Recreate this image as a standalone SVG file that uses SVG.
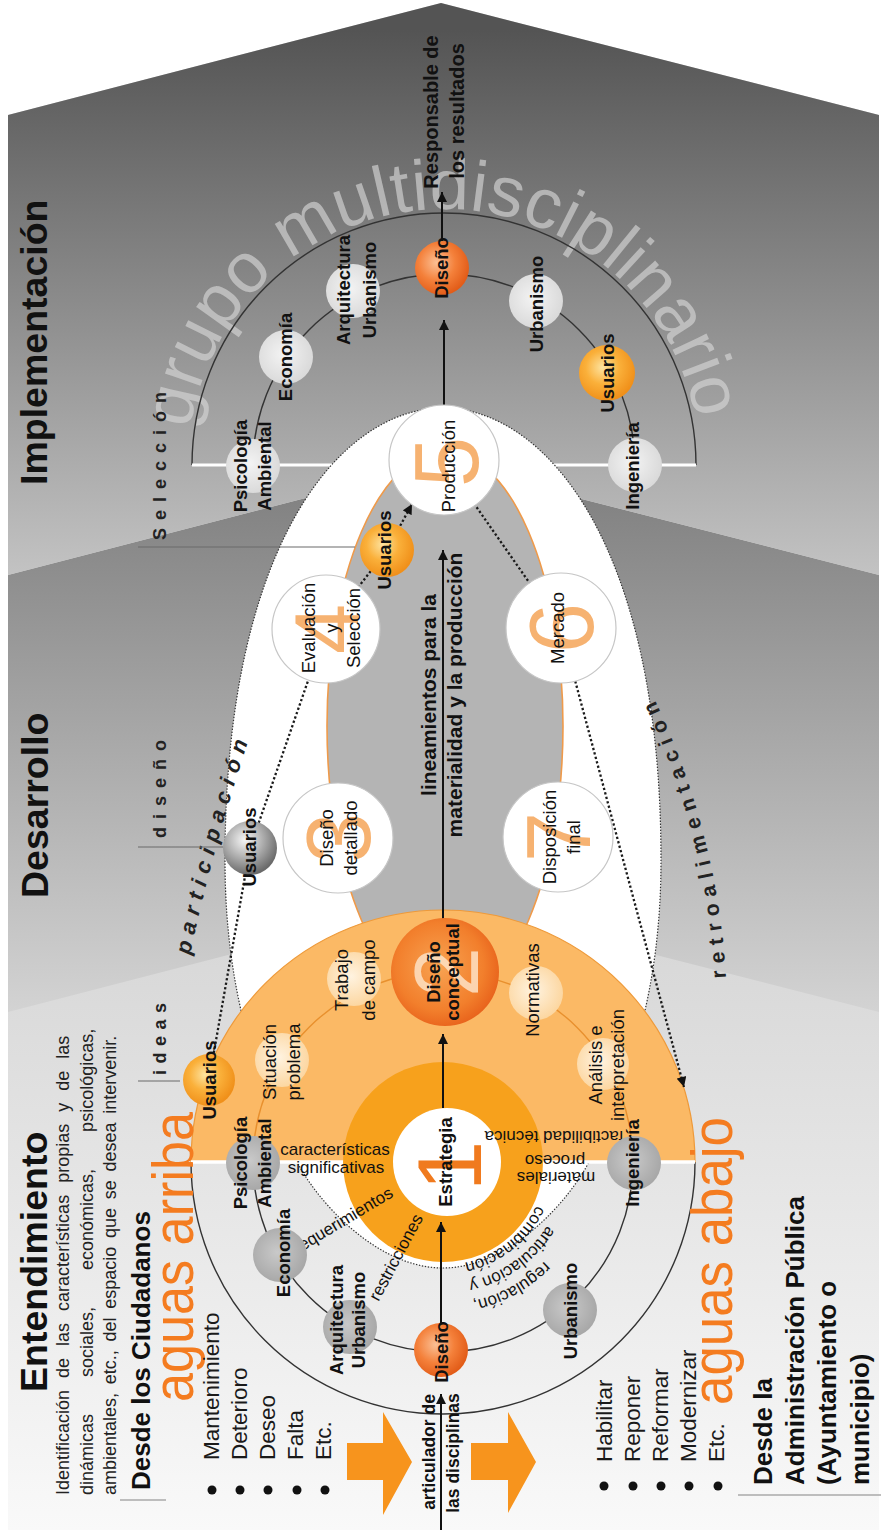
<svg xmlns="http://www.w3.org/2000/svg" width="882" height="1530" viewBox="0 0 882 1530">
<style>
text{font-family:"Liberation Sans",Arial,Helvetica,sans-serif;fill:#111}
.st{font-size:37.5px;font-weight:bold}
.lb{font-size:18.5px;font-weight:bold}
.lr{font-size:18.5px}
.sm{font-size:17px}
.para{font-size:18px;fill:#222}
.li{font-size:22.5px;fill:#1a1a1a}
.hd{font-size:26px;font-weight:bold}
.ax{font-size:20px;font-weight:bold}
.lin{font-size:21px;font-weight:bold}
.agua{font-size:58px;fill:#f47c20}
.num{font-size:90px;fill:#f5a458;fill-opacity:0.85}
.sp{font-size:18px;font-weight:bold;fill:#222;letter-spacing:8px}
.cv{font-size:22px;font-weight:bold;font-style:italic;fill:#222}
.grupo{font-size:71px;fill:#d6d6d6;fill-opacity:0.65}
.arc{fill:none;stroke:#333;stroke-width:1.4}
.oarc{fill:none;stroke:#e8902e;stroke-width:1.4}
.dot{fill:none;stroke:#1a1a1a;stroke-width:2.3;stroke-dasharray:2.3 2.3}
.sol{fill:none;stroke:#111;stroke-width:2}
.stage{fill:#fff;stroke:#c6c6c6;stroke-width:1.2}
.sep{stroke:#6a6a6a;stroke-width:1.2}
.bul{fill:#111}
.blk{fill:#f7941d}
</style>
<defs>
<linearGradient id="gImp" gradientUnits="userSpaceOnUse" x1="0" y1="30" x2="0" y2="575"><stop offset="0" stop-color="#545454"/><stop offset="1" stop-color="#c3c3c3"/></linearGradient>
<linearGradient id="gDes" gradientUnits="userSpaceOnUse" x1="0" y1="470" x2="0" y2="1012"><stop offset="0" stop-color="#7e7e7e"/><stop offset="1" stop-color="#d3d3d3"/></linearGradient>
<linearGradient id="gEnt" gradientUnits="userSpaceOnUse" x1="0" y1="900" x2="0" y2="1530"><stop offset="0" stop-color="#d5d5d5"/><stop offset="1" stop-color="#f9f9f9"/></linearGradient>
<radialGradient id="gLight" cx="0.45" cy="0.45" r="0.55"><stop offset="0" stop-color="#f3f3f3"/><stop offset="1" stop-color="#dadada"/></radialGradient>
<radialGradient id="gMid" cx="0.45" cy="0.45" r="0.55"><stop offset="0" stop-color="#c9c9c9"/><stop offset="1" stop-color="#a8a8a8"/></radialGradient>
<radialGradient id="gPale" cx="0.45" cy="0.45" r="0.55"><stop offset="0" stop-color="#fff3e0"/><stop offset="1" stop-color="#fcd7a2"/></radialGradient>
<radialGradient id="gOrange" cx="0.42" cy="0.4" r="0.6"><stop offset="0" stop-color="#fde3a0"/><stop offset="0.5" stop-color="#fab03a"/><stop offset="1" stop-color="#f0901a"/></radialGradient>
<radialGradient id="gDark" cx="0.4" cy="0.4" r="0.62"><stop offset="0" stop-color="#fbc095"/><stop offset="0.55" stop-color="#f4803a"/><stop offset="1" stop-color="#e25c18"/></radialGradient>
<radialGradient id="gConc" cx="0.45" cy="0.45" r="0.58"><stop offset="0" stop-color="#f8a352"/><stop offset="0.7" stop-color="#f27f2c"/><stop offset="1" stop-color="#e8621b"/></radialGradient>
<radialGradient id="gGrayS" cx="0.4" cy="0.35" r="0.65"><stop offset="0" stop-color="#f6f6f6"/><stop offset="0.55" stop-color="#aaaaaa"/><stop offset="1" stop-color="#6a6a6a"/></radialGradient>
<marker id="ah" viewBox="0 0 10 10" refX="10" refY="5" markerWidth="11" markerHeight="10" markerUnits="userSpaceOnUse" orient="auto"><path d="M0,0 L10,5 L0,10 Z" fill="#111"/></marker>
<path id="pGrupo" d="M188,465 A256,256 0 0 1 700,465"/>
<path id="pPart" d="M190,955 Q212,850 252,730"/>
<path id="pRetro" d="M726,978 Q717,815 636,662"/>
<path id="pReg1" d="M585,1162 A142,142 0 0 1 418.3,1301.8"/>
<path id="pReg2" d="M565,1162 A122,122 0 0 1 421.8,1282.1"/>
<path id="pReg3" d="M546,1162 A103,103 0 0 1 425.1,1263.4"/>
</defs>

<!-- three stage bands -->
<g id="background">
<path d="M8,1530 L8,115 L441,3 L879,115 L879,1530 Z" fill="url(#gEnt)"/>
<path d="M8,1012 L8,575 L441,463 L879,575 L879,1012 L441,900 Z" fill="url(#gDes)"/>
<path d="M8,575 L8,115 L441,3 L879,115 L879,575 L441,463 Z" fill="url(#gImp)"/>
</g>

<!-- implementation half ring -->
<g id="implementacion-ring">
<text class="grupo"><textPath href="#pGrupo" startOffset="36">grupo multidisciplinario</textPath></text>
<path class="arc" d="M192,465 A252,252 0 0 1 696,465"/>
<line x1="192" y1="465" x2="696" y2="465" stroke="#fff" stroke-width="3"/>
<path class="arc" d="M253,465 A191,191 0 0 1 635,465"/>
</g>

<!-- development field -->
<g id="desarrollo-field">
<path d="M443,408 C543,408 661,540 661,860 C661,990 630,1080 590,1160 C570,1200 510,1268 443,1268 C376,1268 316,1200 296,1160 C256,1080 225,990 225,860 C225,540 343,408 443,408 Z" fill="#fff" stroke="#333" stroke-width="1.2" stroke-dasharray="1.4 1.6"/>
<ellipse cx="445" cy="726" rx="118" ry="275" fill="#b4b4b4" stroke="#ef9a4a" stroke-width="1.6"/>
</g>

<!-- understanding half ring -->
<g id="entendimiento-ring">
<path class="arc" d="M191,1162 A252,252 0 0 0 695,1162"/>
<path class="arc" d="M253,1162 A190,190 0 0 0 633,1162"/>
<path d="M191,1162 A252,252 0 0 1 695,1162 Z" fill="#fbb965" stroke="#ee9a3a" stroke-width="1.2"/>
<line x1="191" y1="1162" x2="695" y2="1162" stroke="#fff" stroke-width="3.5"/>
<path class="oarc" d="M253,1162 A190,190 0 0 1 633,1162"/>
<circle cx="443" cy="1162" r="100" fill="#f7a11c"/>
<circle cx="447" cy="1162" r="54" fill="#fff"/>
</g>

<g id="connectors">
<polyline class="dot" points="209,1080 250,848 326,629 387,550"/>
<line class="dot" x1="387" y1="550" x2="412" y2="504" marker-end="url(#ah)"/>
<polyline class="dot" points="445,462 561,628 684,1087" marker-end="url(#ah)"/>
<line class="sol" x1="441" y1="1530" x2="441" y2="1394" marker-end="url(#ah)"/>
<line class="sol" x1="441" y1="1323" x2="441" y2="1222" marker-end="url(#ah)"/>
<line class="sol" x1="443" y1="1108" x2="443" y2="1034" marker-end="url(#ah)"/>
<line class="sol" x1="443" y1="920" x2="443" y2="550" marker-end="url(#ah)"/>
<line class="sol" x1="444" y1="406" x2="444" y2="320" marker-end="url(#ah)"/>
<line class="sol" x1="442" y1="241" x2="442" y2="192" marker-end="url(#ah)"/>
</g>

<!-- discipline nodes, implementation -->
<g id="imp-psicologia"><circle cx="253" cy="466" r="27" fill="url(#gLight)"/><text class="lb" text-anchor="middle" transform="translate(247,466) rotate(-90)"><tspan x="0" y="0">Psicología</tspan><tspan x="0" y="24">Ambiental</tspan></text></g>
<g id="imp-economia"><circle cx="286" cy="357" r="27" fill="url(#gLight)"/><text class="lb" text-anchor="middle" transform="translate(292,357) rotate(-90)">Economía</text></g>
<g id="imp-arquitectura"><circle cx="353" cy="291" r="27" fill="url(#gLight)"/><text class="lb" text-anchor="middle" transform="translate(350,290) rotate(-90)"><tspan x="0" y="0">Arquitectura</tspan><tspan x="0" y="26">Urbanismo</tspan></text></g>
<g id="imp-diseno"><circle cx="442" cy="268" r="27" fill="url(#gDark)"/><text class="lb" text-anchor="middle" transform="translate(448,268) rotate(-90)">Diseño</text></g>
<g id="imp-urbanismo"><circle cx="536" cy="301" r="27" fill="url(#gLight)"/><text class="lb" text-anchor="middle" transform="translate(543,304) rotate(-90)">Urbanismo</text></g>
<g id="imp-usuarios"><circle cx="607" cy="373" r="28" fill="url(#gOrange)"/><text class="lb" text-anchor="middle" transform="translate(614,373) rotate(-90)">Usuarios</text></g>
<g id="imp-ingenieria"><circle cx="635" cy="465" r="27" fill="url(#gLight)"/><text class="lb" text-anchor="middle" transform="translate(639,466) rotate(-90)">Ingeniería</text></g>
<g id="resultados"><text class="ax" text-anchor="middle" transform="translate(438,112) rotate(-90)">Responsable de</text><text class="ax" text-anchor="middle" transform="translate(464,111) rotate(-90)">los resultados</text></g>

<!-- process stages -->
<g id="stage-5"><circle class="stage" cx="444" cy="460" r="55"/><text class="num" text-anchor="middle" transform="translate(478,462) rotate(-90)">5</text><text class="lr" text-anchor="middle" transform="translate(455,466) rotate(-90)">Producción</text></g>
<g id="stage-4"><circle class="stage" cx="326" cy="629" r="54"/><text class="num" text-anchor="middle" transform="translate(358,629) rotate(-90)">4</text><text class="lr" text-anchor="middle" transform="translate(315,628) rotate(-90)"><tspan x="0" y="0">Evaluación</tspan><tspan x="0" y="22.5">y</tspan><tspan x="0" y="45">Selección</tspan></text></g>
<g id="usuarios-seleccion"><circle cx="387" cy="550" r="27" fill="url(#gOrange)"/><text class="lb" text-anchor="middle" transform="translate(391,550) rotate(-90)">Usuarios</text></g>
<g id="stage-6"><circle class="stage" cx="561" cy="628" r="55"/><text class="num" text-anchor="middle" transform="translate(593,628) rotate(-90)">6</text><text class="lr" text-anchor="middle" transform="translate(564,628) rotate(-90)">Mercado</text></g>
<g id="stage-3"><circle class="stage" cx="338" cy="838" r="55"/><text class="num" text-anchor="middle" transform="translate(370,838) rotate(-90)">3</text><text class="lr" text-anchor="middle" transform="translate(333,838) rotate(-90)"><tspan x="0" y="0">Diseño</tspan><tspan x="0" y="24">detallado</tspan></text></g>
<g id="usuarios-diseno"><circle cx="250" cy="848" r="27" fill="url(#gGrayS)"/><text class="lb" text-anchor="middle" transform="translate(256,847) rotate(-90)">Usuarios</text></g>
<g id="stage-7"><circle class="stage" cx="558" cy="837" r="55"/><text class="num" text-anchor="middle" transform="translate(590,837) rotate(-90)">7</text><text class="lr" text-anchor="middle" transform="translate(556,837) rotate(-90)"><tspan x="0" y="0">Disposición</tspan><tspan x="0" y="24">final</tspan></text></g>
<g id="lineamientos"><text class="lin" text-anchor="middle" transform="translate(436,695) rotate(-90)">lineamientos para la</text><text class="lin" text-anchor="middle" transform="translate(462,695) rotate(-90)">materialidad y la producción</text></g>
<g id="stage-2"><circle cx="445" cy="972" r="54" fill="url(#gConc)"/><text class="num" text-anchor="middle" transform="translate(478,972) rotate(-90)" style="fill:#fde2c6">2</text><text class="lb" text-anchor="middle" transform="translate(440,972) rotate(-90)"><tspan x="0" y="0">Diseño</tspan><tspan x="0" y="19">conceptual</tspan></text></g>

<!-- understanding nodes, upper half -->
<g id="ent-trabajo"><circle cx="354" cy="979" r="27" fill="url(#gPale)"/><text class="lr" text-anchor="middle" transform="translate(348,980) rotate(-90)"><tspan x="0" y="0">Trabajo</tspan><tspan x="0" y="27">de campo</tspan></text></g>
<g id="ent-situacion"><circle cx="282" cy="1060" r="27" fill="url(#gPale)"/><text class="lr" text-anchor="middle" transform="translate(276,1062) rotate(-90)"><tspan x="0" y="0">Situación</tspan><tspan x="0" y="24">problema</tspan></text></g>
<g id="ent-usuarios"><circle cx="209" cy="1080" r="26" fill="url(#gOrange)"/><text class="lb" text-anchor="middle" transform="translate(216,1080) rotate(-90)">Usuarios</text></g>
<g id="ent-normativas"><circle cx="536" cy="993" r="27" fill="url(#gPale)"/><text class="lr" text-anchor="middle" transform="translate(539,990) rotate(-90)">Normativas</text></g>
<g id="ent-analisis"><circle cx="603" cy="1064" r="26" fill="url(#gPale)"/><text class="lr" text-anchor="middle" transform="translate(602,1065) rotate(-90)"><tspan x="0" y="0">Análisis e</tspan><tspan x="0" y="22">interpretación</tspan></text></g>

<!-- strategy core -->
<g id="stage-1">
<text class="num" text-anchor="middle" transform="translate(481,1166) rotate(-90)" style="fill:#f07a1e;fill-opacity:1">1</text>
<text class="lb" text-anchor="middle" transform="translate(452,1162) rotate(-90)">Estrategia</text>
<text class="sm" text-anchor="middle" x="335" y="1155">características</text>
<text class="sm" text-anchor="middle" x="336" y="1173">significativas</text>
<text class="sm" text-anchor="middle" transform="translate(346,1225) rotate(-31)">requerimientos</text>
<text class="sm" text-anchor="middle" transform="translate(401,1260) rotate(-62)">restricciones</text>
<text class="sm" text-anchor="end"><textPath href="#pReg1" startOffset="78%">regulación,</textPath></text>
<text class="sm" text-anchor="end"><textPath href="#pReg2" startOffset="78%">articulación y</textPath></text>
<text class="sm" text-anchor="end"><textPath href="#pReg3" startOffset="78%">combinación</textPath></text>
<text class="sm" text-anchor="middle" transform="translate(554,1131) rotate(180)">factibilidad técnica</text>
<text class="sm" text-anchor="middle" transform="translate(555,1155) rotate(180)">proceso</text>
<text class="sm" text-anchor="middle" transform="translate(556,1172) rotate(180)">materiales</text>
</g>

<!-- discipline nodes, understanding lower half -->
<g id="ent-psicologia"><circle cx="253" cy="1163" r="27" fill="url(#gMid)"/><text class="lb" text-anchor="middle" transform="translate(247,1163) rotate(-90)"><tspan x="0" y="0">Psicología</tspan><tspan x="0" y="24">Ambiental</tspan></text></g>
<g id="ent-economia"><circle cx="280" cy="1255" r="27" fill="url(#gMid)"/><text class="lb" text-anchor="middle" transform="translate(290,1253) rotate(-90)">Economía</text></g>
<g id="ent-arquitectura"><circle cx="350" cy="1327" r="27" fill="url(#gMid)"/><text class="lb" text-anchor="middle" transform="translate(343,1320) rotate(-90)"><tspan x="0" y="0">Arquitectura</tspan><tspan x="0" y="22">Urbanismo</tspan></text></g>
<g id="ent-diseno"><circle cx="441" cy="1350" r="27" fill="url(#gDark)"/><text class="lb" text-anchor="middle" transform="translate(448,1352) rotate(-90)">Diseño</text></g>
<g id="ent-urbanismo"><circle cx="570" cy="1310" r="27" fill="url(#gMid)"/><text class="lb" text-anchor="middle" transform="translate(577,1311) rotate(-90)">Urbanismo</text></g>
<g id="ent-ingenieria"><circle cx="634" cy="1163" r="27" fill="url(#gMid)"/><text class="lb" text-anchor="middle" transform="translate(639,1163) rotate(-90)">Ingeniería</text></g>
<g id="articulador"><text class="ax" text-anchor="middle" transform="translate(435,1452) rotate(-90)" style="font-size:17.5px">articulador de</text><text class="ax" text-anchor="middle" transform="translate(459,1453) rotate(-90)" style="font-size:17.5px">las disciplinas</text></g>

<!-- curved side labels -->
<g id="side-labels">
<text class="cv" letter-spacing="7"><textPath href="#pPart">participación</textPath></text>
<text class="cv" letter-spacing="7" style="font-style:normal;font-size:21px"><textPath href="#pRetro">retroalimentación</textPath></text>
<line class="sep" x1="138" y1="1081" x2="180" y2="1081"/>
<text class="sp" transform="translate(166,1075) rotate(-90)" style="letter-spacing:6.5px">ideas</text>
<line class="sep" x1="138" y1="847" x2="223" y2="847"/>
<text class="sp" transform="translate(166,838) rotate(-90)">diseño</text>
<line class="sep" x1="138" y1="547" x2="355" y2="547"/>
<text class="sp" transform="translate(166,540) rotate(-90)">Selección</text>
</g>

<!-- stage titles and side notes -->
<g id="titles">
<text class="st" transform="translate(47,485) rotate(-90)">Implementación</text>
<text class="st" transform="translate(48,898) rotate(-90)">Desarrollo</text>
<text class="st" transform="translate(47,1392) rotate(-90)">Entendimiento</text>
<text class="para" transform="translate(69,1495) rotate(-90)" style="word-spacing:7px">Identificación de las características propias y de las</text>
<text class="para" transform="translate(93,1495) rotate(-90)" style="word-spacing:32px">dinámicas sociales, económicas, psicológicas,</text>
<text class="para" transform="translate(116,1495) rotate(-90)" style="word-spacing:3.7px">ambientales, etc., del espacio que se desea intervenir.</text>
<text class="hd" transform="translate(150,1490) rotate(-90)">Desde los Ciudadanos</text>
<line x1="120" y1="1500" x2="166" y2="1500" stroke="#aaa" stroke-width="1.5"/>
<text class="agua" transform="translate(193,1402) rotate(-90)" textLength="290" lengthAdjust="spacingAndGlyphs">aguas arriba</text>
<text class="li" transform="translate(219,1460) rotate(-90)"><tspan x="0" y="0">Mantenimiento</tspan><tspan x="0" y="28">Deterioro</tspan><tspan x="0" y="56">Deseo</tspan><tspan x="0" y="84">Falta</tspan><tspan x="0" y="112">Etc.</tspan></text>
<circle class="bul" cx="212" cy="1490" r="4.5"/><circle class="bul" cx="240" cy="1490" r="4.5"/><circle class="bul" cx="268" cy="1490" r="4.5"/><circle class="bul" cx="297" cy="1490" r="4.5"/><circle class="bul" cx="325" cy="1490" r="4.5"/>
<path class="blk" d="M347,1443 L383,1443 L383,1412 L412,1462 L383,1515 L383,1480 L347,1480 Z"/>
<path class="blk" d="M471,1443 L508,1443 L508,1412 L536,1462 L508,1513 L508,1480 L471,1480 Z"/>
<text class="li" transform="translate(612,1462) rotate(-90)"><tspan x="0" y="0">Habilitar</tspan><tspan x="0" y="28">Reponer</tspan><tspan x="0" y="56">Reformar</tspan><tspan x="0" y="84">Modernizar</tspan><tspan x="0" y="112">Etc.</tspan></text>
<circle class="bul" cx="604" cy="1486" r="4.5"/><circle class="bul" cx="633" cy="1486" r="4.5"/><circle class="bul" cx="661" cy="1486" r="4.5"/><circle class="bul" cx="689" cy="1486" r="4.5"/><circle class="bul" cx="718" cy="1486" r="4.5"/>
<text class="agua" transform="translate(732,1405) rotate(-90)" textLength="288" lengthAdjust="spacingAndGlyphs">aguas abajo</text>
<text class="hd" transform="translate(772,1485) rotate(-90)"><tspan x="0" y="0">Desde la</tspan><tspan x="0" y="32">Administración Pública</tspan><tspan x="0" y="64">(Ayuntamiento o</tspan><tspan x="0" y="97">municipio)</tspan></text>
<line x1="738" y1="1495" x2="881" y2="1495" stroke="#aaa" stroke-width="1.5"/>
</g>
</svg>
